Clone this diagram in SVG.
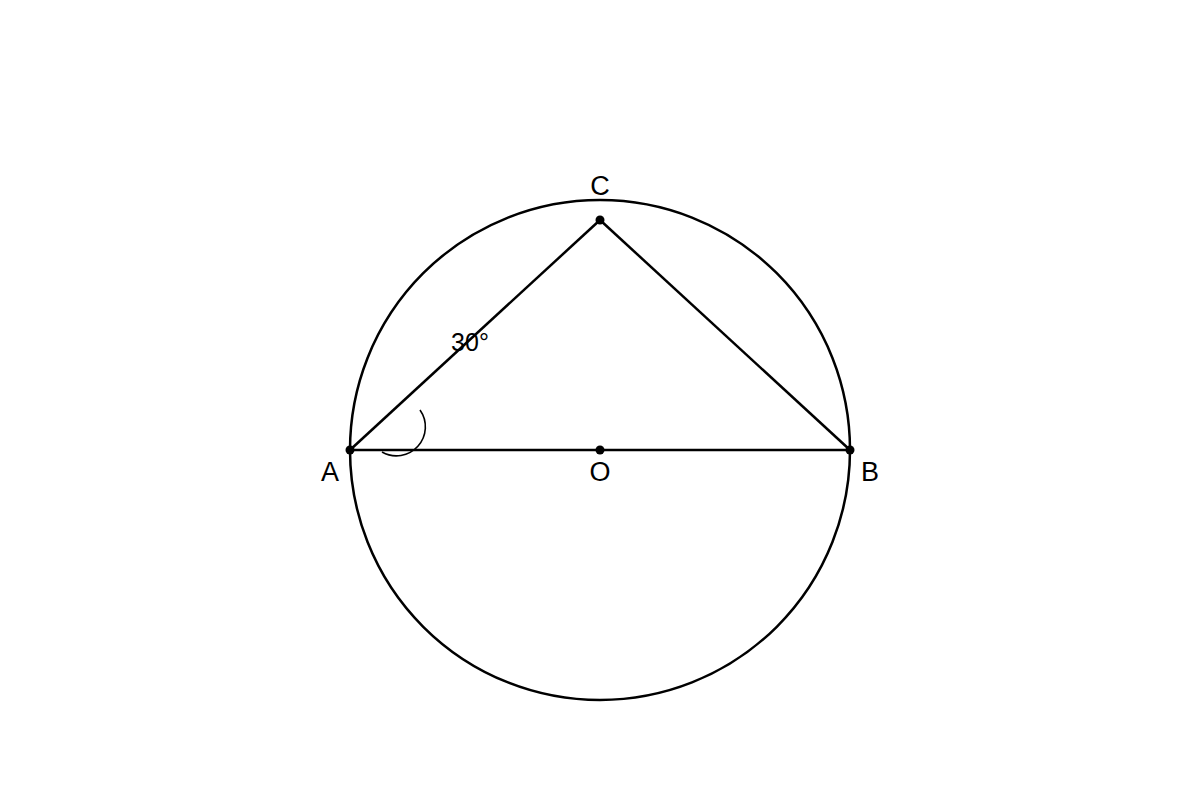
<svg xmlns="http://www.w3.org/2000/svg" width="1200" height="800" viewBox="0 0 1200 800">
<style>
.ln{fill:none;stroke:#000;stroke-width:2.5}
.thin{fill:none;stroke:#000;stroke-width:1.6}
.lbl{font-family:"Liberation Sans",Arial,sans-serif;font-size:27px;fill:#000;text-anchor:middle}
.ang{font-family:"Liberation Sans",Arial,sans-serif;font-size:25px;fill:#000;text-anchor:middle}
</style>
<rect width="1200" height="800" fill="#fff"/>
<g id="connectors">
<circle class="ln" cx="600" cy="450" r="250"/>
<line class="ln" x1="350" y1="450" x2="850" y2="450"/>
<line class="ln" x1="350" y1="450" x2="600" y2="220"/>
<line class="ln" x1="600" y1="220" x2="850" y2="450"/>
<path class="thin" d="M 420 410 A 29 29 0 0 1 382 452"/>
</g>
<g id="A"><circle cx="350" cy="450" r="4.5"/><text class="lbl" x="330" y="481">A</text></g>
<g id="B"><circle cx="850" cy="450" r="4.5"/><text class="lbl" x="870" y="481">B</text></g>
<g id="C"><circle cx="600" cy="220" r="4.5"/><text class="lbl" x="600" y="195">C</text></g>
<g id="O"><circle cx="600" cy="450" r="4.5"/><text class="lbl" x="600" y="481">O</text></g>
<g id="angle"><text class="ang" x="470" y="351">30°</text></g>
</svg>
